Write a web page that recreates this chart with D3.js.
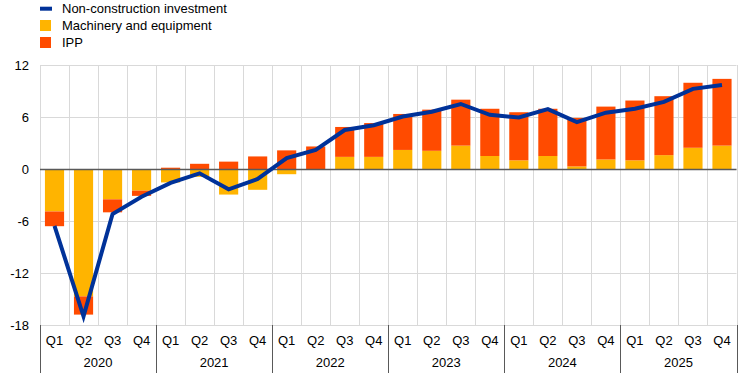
<!DOCTYPE html>
<meta charset="utf-8">
<style>
body { margin: 0; background: #fff; }
svg { font-family: "Liberation Sans", Arial, sans-serif; }
.grid line { stroke: #d9d9d9; stroke-width: 1; }
.tick-label { font-size: 13px; fill: #000; }
.legend text { font-size: 13px; fill: #000; }
</style>
<svg width="744" height="373"></svg>
<script src="https://d3js.org/d3.v7.min.js"></script>
<script>

// chart data
var years = ["2020", "2021", "2022", "2023", "2024", "2025"];
var quarters = ["Q1", "Q2", "Q3", "Q4"];

var machinery = [-4.9, -14.7, -3.5, -2.5, -1.55, -0.9, -2.95, -2.4,
                 -0.6, 0.0, 1.4, 1.4, 2.2, 2.1, 2.7, 1.5,
                 1.0, 1.5, 0.3, 1.1, 1.0, 1.6, 2.45, 2.7];
var ipp = [-1.7, -2.1, -1.5, -0.6, 0.15, 0.6, 0.85, 1.45,
           2.15, 2.6, 3.45, 3.9, 4.15, 4.75, 5.3, 5.45,
           5.55, 5.45, 5.6, 6.1, 6.9, 6.8, 7.5, 7.7];
var nonConstruction = [-6.55, -17.0, -5.2, -3.2, -1.6, -0.5, -2.35, -1.15,
                       1.25, 2.2, 4.5, 5.05, 6.05, 6.6, 7.5, 6.25,
                       5.95, 6.9, 5.4, 6.5, 6.95, 7.75, 9.25, 9.7];
var yTicks = [-18, -12, -6, 0, 6, 12];

var colours = { mach: "#ffb400", ipp: "#ff4b00", line: "#003299" };

var svg = d3.select("svg");

var margin = { left: 40, right: 7.5, top: 65, bottom: 48 };
var width = 744 - margin.left - margin.right,
    height = 373 - margin.top - margin.bottom;

// one row per quarter
var rows = [];
years.forEach(function(y) {
  quarters.forEach(function(q) {
    rows.push({ key: y + q, year: y, q: q });
  });
});
rows.forEach(function(r, i) {
  r.mach = machinery[i];
  r.ipp = ipp[i];
  r.total = nonConstruction[i];
});

var x = d3.scaleBand()
    .domain(rows.map(function(d) { return d.key; }))
    .range([margin.left, margin.left + width])
    .paddingInner(0.34)
    .paddingOuter(0.17);

var y = d3.scaleLinear()
    .domain([-18, 12])
    .range([margin.top + height, margin.top]);

var step = x.step();

// gridlines
var grid = svg.append("g").attr("class", "grid");
grid.selectAll("line.h")
    .data(yTicks.filter(function(t) { return t !== 0; }))
    .enter().append("line")
    .attr("x1", margin.left).attr("x2", margin.left + width)
    .attr("y1", function(d) { return Math.round(y(d)) + 0.5; })
    .attr("y2", function(d) { return Math.round(y(d)) + 0.5; });
grid.selectAll("line.v")
    .data(d3.range(rows.length + 1))
    .enter().append("line")
    .attr("x1", function(i) { return Math.round(margin.left + i * step) + 0.5; })
    .attr("x2", function(i) { return Math.round(margin.left + i * step) + 0.5; })
    .attr("y1", margin.top)
    .attr("y2", margin.top + height);

// stacked bars, diverging around zero
var stack = d3.stack()
    .keys(["mach", "ipp"])
    .offset(d3.stackOffsetDiverging);
var series = stack(rows);

svg.append("g").selectAll("g")
    .data(series)
    .enter().append("g")
    .attr("fill", function(s) { return colours[s.key]; })
    .selectAll("rect")
    .data(function(s) { return s; })
    .enter().append("rect")
    .attr("x", function(d) { return x(d.data.key); })
    .attr("width", x.bandwidth())
    .attr("y", function(d) { return y(Math.max(d[0], d[1])); })
    .attr("height", function(d) { return Math.abs(y(d[0]) - y(d[1])); });

// zero line
svg.append("line")
    .attr("x1", margin.left).attr("x2", margin.left + width)
    .attr("y1", Math.round(y(0)) + 0.5).attr("y2", Math.round(y(0)) + 0.5)
    .attr("stroke", "#595959").attr("stroke-width", 1.3);

// line
var line = d3.line()
    .x(function(d) { return x(d.key) + x.bandwidth() / 2; })
    .y(function(d) { return y(d.total); });

svg.append("path")
    .datum(rows)
    .attr("fill", "none")
    .attr("stroke", colours.line)
    .attr("stroke-width", 4)
    .attr("stroke-linejoin", "miter")
    .attr("d", line);

// y axis labels
svg.append("g").selectAll("text")
    .data(yTicks)
    .enter().append("text")
    .attr("class", "tick-label")
    .attr("x", 29)
    .attr("y", function(d) { return y(d); })
    .attr("dy", "0.35em")
    .attr("text-anchor", "end")
    .text(function(d) { return d; });

// x axis: quarters and years
var axisY = margin.top + height;
svg.append("g").selectAll("text")
    .data(rows)
    .enter().append("text")
    .attr("class", "tick-label")
    .attr("x", function(d) { return x(d.key) + x.bandwidth() / 2; })
    .attr("y", axisY + 20)
    .attr("text-anchor", "middle")
    .text(function(d) { return d.q; });

svg.append("g").selectAll("text")
    .data(years)
    .enter().append("text")
    .attr("class", "tick-label")
    .attr("x", function(d, i) { return margin.left + (i * 4 + 2) * step; })
    .attr("y", axisY + 42)
    .attr("text-anchor", "middle")
    .text(function(d) { return d; });

svg.append("g").selectAll("line")
    .data(d3.range(years.length + 1))
    .enter().append("line")
    .attr("x1", function(i) { return Math.round(margin.left + i * 4 * step) + 0.5; })
    .attr("x2", function(i) { return Math.round(margin.left + i * 4 * step) + 0.5; })
    .attr("y1", axisY)
    .attr("y2", 373)
    .attr("stroke", "#595959")
    .attr("stroke-width", 1);

// legend
var legend = svg.append("g").attr("class", "legend");
legend.append("rect")
    .attr("x", 40).attr("y", 6.7).attr("width", 12).attr("height", 4)
    .attr("fill", colours.line);
legend.append("rect")
    .attr("x", 40).attr("y", 20).attr("width", 11).attr("height", 11)
    .attr("fill", colours.mach);
legend.append("rect")
    .attr("x", 40).attr("y", 37).attr("width", 11).attr("height", 11)
    .attr("fill", colours.ipp);
legend.selectAll("text")
    .data(["Non-construction investment", "Machinery and equipment", "IPP"])
    .enter().append("text")
    .attr("x", 62)
    .attr("y", function(d, i) { return 12.5 + i * 17.3; })
    .text(function(d) { return d; });

</script>
